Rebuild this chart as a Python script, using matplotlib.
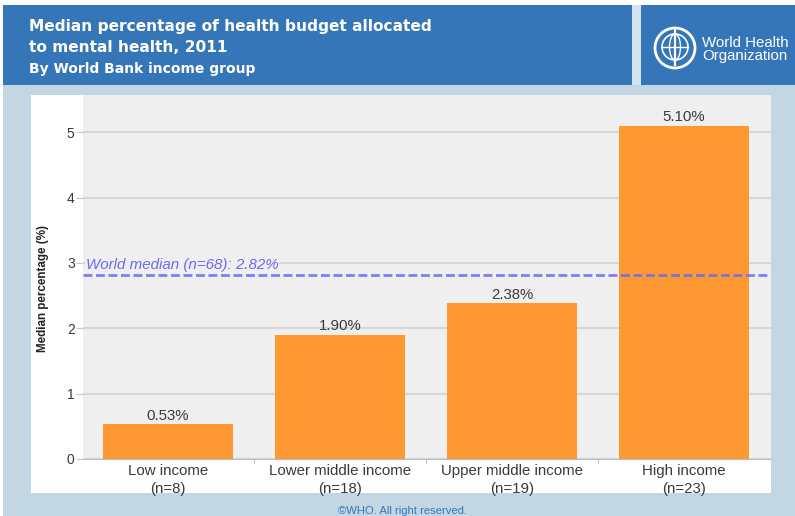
import matplotlib
matplotlib.use("Agg")
import matplotlib.pyplot as plt
from matplotlib.patches import Rectangle, Circle, Ellipse

plt.rcParams['font.family'] = ['Liberation Sans', 'DejaVu Sans']

# data
categories = ["Low income\n(n=8)", "Lower middle income\n(n=18)",
              "Upper middle income\n(n=19)", "High income\n(n=23)"]
values = [0.53, 1.90, 2.38, 5.10]
value_labels = ["0.53%", "1.90%", "2.38%", "5.10%"]
world_median = 2.82
world_label = "World median (n=68): 2.82%"
y_ticks = [0, 1, 2, 3, 4, 5]

W, H = 795, 516
BLUE = '#3576b8'
PALE = '#c3d6e4'
ORANGE = '#fd9832'
PURPLE = '#6a6af5'

fig = plt.figure(figsize=(W / 100, H / 100), dpi=100, facecolor='white')

# overlay in pixel coordinates for the frame (y runs down like the picture)
bg = fig.add_axes([0, 0, 1, 1], zorder=0)
bg.set_xlim(0, W)
bg.set_ylim(H, 0)
bg.axis('off')
bg.add_patch(Rectangle((3, 5), W - 3, H - 5, fc=PALE, ec='none'))
bg.add_patch(Rectangle((3, 5), 629, 80, fc=BLUE, ec='none'))
bg.add_patch(Rectangle((641, 5), W - 641, 80, fc=BLUE, ec='none'))
bg.add_patch(Rectangle((632, 5), 9, 80, fc='#d5e3ee', ec='none'))
bg.add_patch(Rectangle((31, 95), 740, 398, fc='white', ec='none'))

# header text
bg.text(29, 26, "Median percentage of health budget allocated", color='white',
        fontsize=11.1, fontweight='bold', family='DejaVu Sans', va='center', ha='left')
bg.text(29, 47, "to mental health, 2011", color='white',
        fontsize=11.1, fontweight='bold', family='DejaVu Sans', va='center', ha='left')
bg.text(29, 69, "By World Bank income group", color='white',
        fontsize=10, fontweight='bold', family='DejaVu Sans', va='center', ha='left')
bg.text(702, 49.5, "World Health\nOrganization", color='white', fontsize=10.8,
        va='center', ha='left', linespacing=0.85)

# rough WHO emblem
bg.add_patch(Circle((675, 48), 20, fc='none', ec='white', lw=2))
bg.add_patch(Circle((675, 47), 13, fc='none', ec='white', lw=1.2))
bg.add_patch(Ellipse((675, 47), 11, 26, fc='none', ec='white', lw=1))
bg.plot([675, 675], [30, 65], color='white', lw=1.6)
bg.plot([662, 688], [47, 47], color='white', lw=1)

bg.text(402, 511, "©WHO. All right reserved.", color='#3576b8', fontsize=8.1,
        ha='center', va='center')

# plot area
ax = fig.add_axes([83 / W, 1 - 459 / H, (771 - 83) / W, (459 - 95) / H], zorder=1)
ax.set_facecolor('#efefef')
ax.bar(range(len(values)), values, width=0.755, color=ORANGE, zorder=3)
ax.set_xlim(-0.494, 3.506)
ax.set_ylim(0, 5.57)

ax.set_yticks(y_ticks)
ax.yaxis.grid(True, color='#d6d6d6', lw=1.5, zorder=1)
ax.set_axisbelow(True)
for s in ['top', 'right', 'left']:
    ax.spines[s].set_visible(False)
ax.spines['bottom'].set_color('#bdbdbd')
ax.tick_params(axis='y', length=5, color='#c8c8c8', labelsize=10,
               labelcolor='#3a3a3a', pad=1)
ax.set_xticks([0.5, 1.5, 2.5])
ax.set_xticklabels([])
ax.tick_params(axis='x', length=3, color='#bdbdbd')
for i, c in enumerate(categories):
    ax.annotate(c, (i, 0), xytext=(0, -3.5), textcoords='offset points', ha='center',
                va='top', fontsize=10.8, color='#3a3a3a', linespacing=1.38,
                annotation_clip=False)

for i, (v, t) in enumerate(zip(values, value_labels)):
    ax.annotate(t, (i, v), xytext=(0, 1), textcoords='offset points', ha='center',
                va='bottom', fontsize=10.8, color='#3a3a3a')

ax.axhline(world_median, color=PURPLE, lw=2, ls=(0, (3.2, 1.3)), zorder=4, alpha=0.85)
ax.annotate(world_label, (0, world_median), xycoords=('axes fraction', 'data'),
            xytext=(2, 2), textcoords='offset points', ha='left', va='bottom',
            fontsize=10.9, style='italic', color=PURPLE, zorder=5,
            bbox=dict(fc='#efefef', ec='none', pad=0.5))

ax.set_ylabel("Median percentage (%)", fontsize=8.4, fontweight='bold', color='#222222')
ax.yaxis.set_label_coords((49 - 83) / (771 - 83), (459 - 288) / (459 - 95))

fig.savefig("out.png", dpi=100, facecolor=fig.get_facecolor())
